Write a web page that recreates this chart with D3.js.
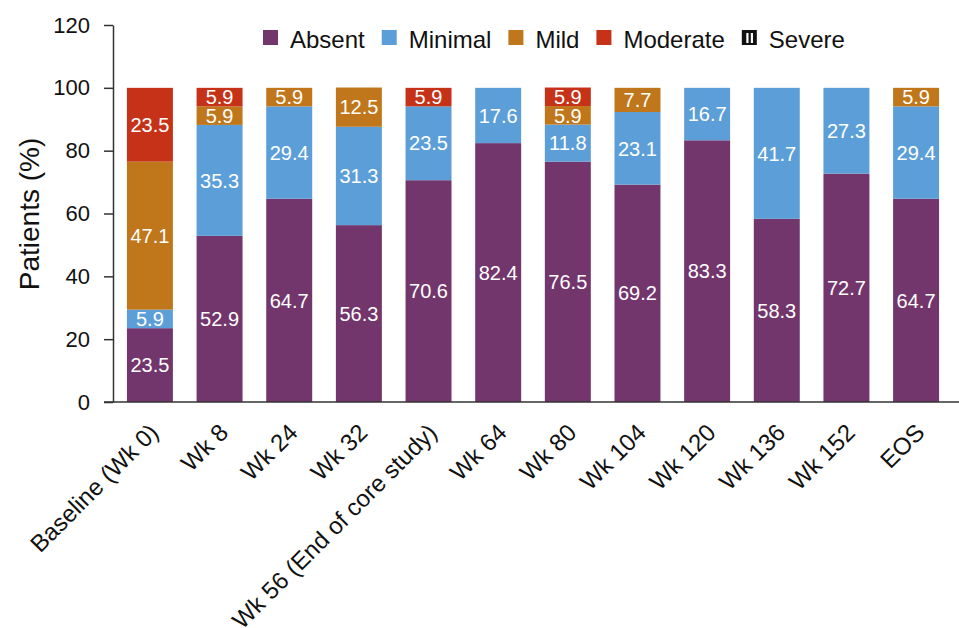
<!DOCTYPE html>
<html>
<head>
<meta charset="utf-8">
<script src="https://cdn.jsdelivr.net/npm/d3@7"></script>
<style>
  body { margin: 0; background: #fff; }
  text { font-family: "Liberation Sans", Arial, sans-serif; }
</style>
</head>
<body>
<svg width="959" height="628"></svg>
<script>
// data
var visits = ["Baseline (Wk 0)", "Wk 8", "Wk 24", "Wk 32", "Wk 56 (End of core study)",
  "Wk 64", "Wk 80", "Wk 104", "Wk 120", "Wk 136", "Wk 152", "EOS"];
var grades = ["Absent", "Minimal", "Mild", "Moderate", "Severe"];
var absent   = [23.5, 52.9, 64.7, 56.3, 70.6, 82.4, 76.5, 69.2, 83.3, 58.3, 72.7, 64.7];
var minimal  = [5.9, 35.3, 29.4, 31.3, 23.5, 17.6, 11.8, 23.1, 16.7, 41.7, 27.3, 29.4];
var mild     = [47.1, 5.9, 5.9, 12.5, 0, 0, 5.9, 7.7, 0, 0, 0, 5.9];
var moderate = [23.5, 5.9, 0, 0, 5.9, 0, 5.9, 0, 0, 0, 0, 0];
var severe   = [0, 0, 0, 0, 0, 0, 0, 0, 0, 0, 0, 0];
var yTicks = [0, 20, 40, 60, 80, 100, 120];

var colors = {Absent: "#72366c", Minimal: "#5c9fd8", Mild: "#c0761a", Moderate: "#c53218", Severe: "#111"};

var svg = d3.select("svg");
var axisColor = "#333";

var rows = visits.map(function(v, i) {
  return {visit: v, Absent: absent[i], Minimal: minimal[i], Mild: mild[i], Moderate: moderate[i], Severe: severe[i]};
});
var stacked = d3.stack().keys(grades)(rows);

var x = d3.scaleBand()
    .domain(visits)
    .range([113, 953])
    .paddingInner(0.34)
    .paddingOuter(0.2);

var y = d3.scaleLinear()
    .domain([0, 120])
    .range([402, 25]);

// bars
var layer = svg.append("g").selectAll("g")
  .data(stacked)
  .enter().append("g")
    .attr("fill", function(d) { return colors[d.key]; });

layer.selectAll("rect")
  .data(function(d) { return d; })
  .enter().append("rect")
    .attr("x", function(d) { return x(d.data.visit); })
    .attr("y", function(d) { return y(d[1]); })
    .attr("width", x.bandwidth())
    .attr("height", function(d) { return y(d[0]) - y(d[1]); });

// value labels
layer.selectAll("text")
  .data(function(d) { return d.filter(function(s) { return s[1] - s[0] > 0; }); })
  .enter().append("text")
    .attr("x", function(d) { return x(d.data.visit) + x.bandwidth() / 2; })
    .attr("y", function(d) { return (y(d[0]) + y(d[1])) / 2; })
    .attr("dy", "0.36em")
    .attr("text-anchor", "middle")
    .attr("fill", "#fff")
    .style("font-size", "20px")
    .text(function(d) { return (d[1] - d[0]).toFixed(1); });

// y axis
var yAxis = svg.append("g")
    .attr("transform", "translate(113,0)")
    .call(d3.axisLeft(y).tickValues(yTicks).tickSize(9).tickSizeOuter(0).tickPadding(14));
yAxis.select(".domain").attr("stroke", axisColor).attr("stroke-width", 1.5);
yAxis.selectAll(".tick line").attr("stroke", axisColor).attr("stroke-width", 1.5);
yAxis.selectAll(".tick text")
    .attr("fill", "#111")
    .style("font-size", "22px")
    .style("font-family", "'Liberation Sans', Arial, sans-serif");

// x axis baseline
svg.append("line")
    .attr("x1", 104).attr("x2", 959)
    .attr("y1", y(0)).attr("y2", y(0))
    .attr("stroke", axisColor).attr("stroke-width", 1.5);

// x labels
svg.append("g").selectAll("text")
  .data(visits)
  .enter().append("text")
    .attr("transform", function(d) {
      return "translate(" + (x(d) + x.bandwidth() / 2 + 10) + ",434) rotate(-45)";
    })
    .attr("text-anchor", "end")
    .attr("fill", "#111")
    .style("font-size", "24px")
    .text(function(d) { return d; });

// y title
svg.append("text")
    .attr("transform", "translate(39,214) rotate(-90)")
    .attr("text-anchor", "middle")
    .attr("fill", "#111")
    .style("font-size", "28px")
    .text("Patients (%)");

// legend
var lx = 263;
grades.forEach(function(gname) {
  svg.append("rect")
      .attr("x", lx).attr("y", 30)
      .attr("width", 15).attr("height", 15)
      .attr("fill", colors[gname]);
  if (gname == "Severe") {
    // white slots in the severe icon
    [4.5, 9].forEach(function(off) {
      svg.append("rect")
          .attr("x", lx + off).attr("y", 33)
          .attr("width", 2.2).attr("height", 10)
          .attr("fill", "#fff");
    });
  }
  var t = svg.append("text")
      .attr("x", lx + 27).attr("y", 39)
      .attr("dy", "0.36em")
      .attr("fill", "#111")
      .style("font-size", "24px")
      .text(gname);
  lx = lx + 27 + t.node().getComputedTextLength() + 17;
});
</script>
</body>
</html>
